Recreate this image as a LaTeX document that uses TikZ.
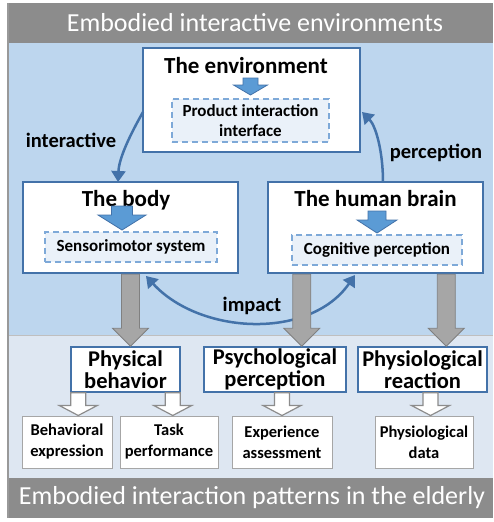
\documentclass[tikz,border=0pt]{standalone}
\usepackage{fontspec}
\setmainfont{Carlito}
\usetikzlibrary{arrows.meta,calc}

\definecolor{headgray}{HTML}{8C8C8C}
\definecolor{skyfill}{HTML}{BDD6EE}
\definecolor{palefill}{HTML}{DEE7F2}
\definecolor{linkblue}{HTML}{4372A9}
\definecolor{dashblue}{HTML}{7EA9D8}
\definecolor{partfill}{HTML}{EAF1F9}
\definecolor{cuefill}{HTML}{5B9BD5}

% fat vertical arrow: #2 start, #3 tip, #4 half shaft, #5 half head, #6 head length
\newcommand\fatdown[6]{%
  \path[#1] let \p1=(#2), \p2=(#3) in
    ({\x1-#4},\y1) -- ({\x1+#4},\y1) -- ({\x1+#4},{\y2+#6}) -- ({\x1+#5},{\y2+#6})
    -- (\x1,\y2) -- ({\x1-#5},{\y2+#6}) -- ({\x1-#4},{\y2+#6}) -- cycle;}

\tikzset{
  band/.style={font=\fontsize{26}{28}\selectfont, text=white},
  panel/.style={draw=linkblue, line width=2.5pt, fill=white},
  paneltitle/.style={font=\bfseries\fontsize{23}{26}\selectfont},
  part/.style={draw=dashblue, dashed, dash pattern=on 6pt off 4pt, line width=1.3pt,
    fill=partfill, font=\bfseries\fontsize{17}{20}\selectfont, align=center, inner sep=1pt},
  cue/.style={fill=cuefill, draw=linkblue, line width=0.8pt},
  link/.style={draw=linkblue, line width=2.5pt, -{Triangle[length=11pt,width=14pt]}},
  linklabel/.style={font=\bfseries\fontsize{20.5}{22}\selectfont},
  effect/.style={draw=linkblue, line width=1.5pt, fill=white, align=center,
    font=\bfseries\fontsize{22.5}{22}\selectfont, minimum height=45pt, inner sep=0pt},
  measure/.style={draw=black!35, line width=1pt, fill=white, align=center,
    font=\bfseries\fontsize{16.5}{21}\selectfont, minimum height=52pt, inner sep=1pt},
  grayarrow/.style={fill=black!35, draw=black!50, line width=0.8pt},
  hollowarrow/.style={fill=white, draw=black!45, line width=1.2pt},
}

\begin{document}
\begin{tikzpicture}[x=1pt, y=-1pt]
\useasboundingbox (0,0) rectangle (493,522);
% regions
\fill[skyfill] (8,43) rectangle (493,335);
\fill[palefill] (8,335) rectangle (493,478);
\draw[black!25, line width=1pt] (8,335) -- (493,335);
\fill[headgray] (8,3) rectangle (493,43);
\fill[headgray] (8,478) rectangle (493,518);
\draw[black!40, line width=1.5pt] (8,3) -- (8,518);
\node[band] (top) at (255,23) {Embodied interactive environments};
\node[band] (bottom) at (252,498) {Embodied interaction patterns in the elderly};

% the three panels
\node[panel, minimum width=217pt, minimum height=104pt] (env) at (251.5,100) {};
\node[paneltitle] (envtitle) at (246,66) {The environment};
\node[part, minimum width=157pt, minimum height=43pt] (envpart) at (250.5,120.5) {Product interaction\\interface};
\fatdown{cue}{250.5,78}{250.5,95}{7.5pt}{17pt}{10pt}

\node[panel, minimum width=215pt, minimum height=91pt] (body) at (130.5,227.5) {};
\node[paneltitle] (bodytitle) at (126,200) {The body};
\node[part, minimum width=172pt, minimum height=30pt] (bodypart) at (131,247) {Sensorimotor system};
\fatdown{cue}{122,206}{122,230}{10.5pt}{24pt}{15pt}

\node[panel, minimum width=215pt, minimum height=91pt] (brain) at (375.5,227.5) {};
\node[paneltitle] (braintitle) at (375.5,199) {The human brain};
\node[part, minimum width=170pt, minimum height=30pt] (brainpart) at (377,250) {Cognitive perception};
\fatdown{cue}{377,211}{377,233}{9pt}{20pt}{13pt}

% loop between the panels
\draw[link] (143,112) .. controls (130,135) and (119,158) .. (118,182);
\draw[link] (383,182) .. controls (383,152) and (376,126) .. (362,112);
\draw[link, {Triangle[length=11pt,width=14pt]}-{Triangle[length=11pt,width=14pt]}]
  (146,276) .. controls (200,335) and (310,340) .. (355,275);
\node[linklabel] (lbinter) at (71,140) {interactive};
\node[linklabel] (lbperc) at (436,153) {perception};
\node[linklabel] (lbimpact) at (252,306) {impact};

% effects
\node[effect, minimum width=109pt] (phys) at (125.5,369.5) {Physical\\behavior};
\node[effect, minimum width=142pt] (psych) at (275,369.5) {Psychological\\perception};
\node[effect, minimum width=129pt] (physio) at (422.5,369.5) {Physiological\\reaction};

\fatdown{grayarrow}{body.south}{phys.north}{9pt}{18pt}{18pt}
\fatdown{grayarrow}{$(brain.south west)+(35,0)$}{psych.north}{9pt}{18pt}{18pt}
\fatdown{grayarrow}{$(brain.south east)+(-38,0)$}{physio.north}{9pt}{18pt}{18pt}

% measures
\node[measure, minimum width=90pt] (beh) at (67,442) {Behavioral\\expression};
\node[measure, minimum width=98pt] (task) at (169,442) {Task\\performance};
\node[measure, minimum width=100pt] (exp) at (282,442) {Experience\\assessment};
\node[measure, minimum width=98pt] (data) at (424,442) {Physiological\\data};

\fatdown{hollowarrow}{$(phys.south west)+(8,0)$}{beh.north}{7.5pt}{19pt}{10pt}
\fatdown{hollowarrow}{$(phys.south east)+(-8,0)$}{task.north}{7.5pt}{19pt}{10pt}
\fatdown{hollowarrow}{psych.south -| exp.north}{exp.north}{7.5pt}{19pt}{10pt}
\fatdown{hollowarrow}{$(physio.south)+(8,0)$}{data.north}{7.5pt}{19pt}{10pt}
\end{tikzpicture}
\end{document}
